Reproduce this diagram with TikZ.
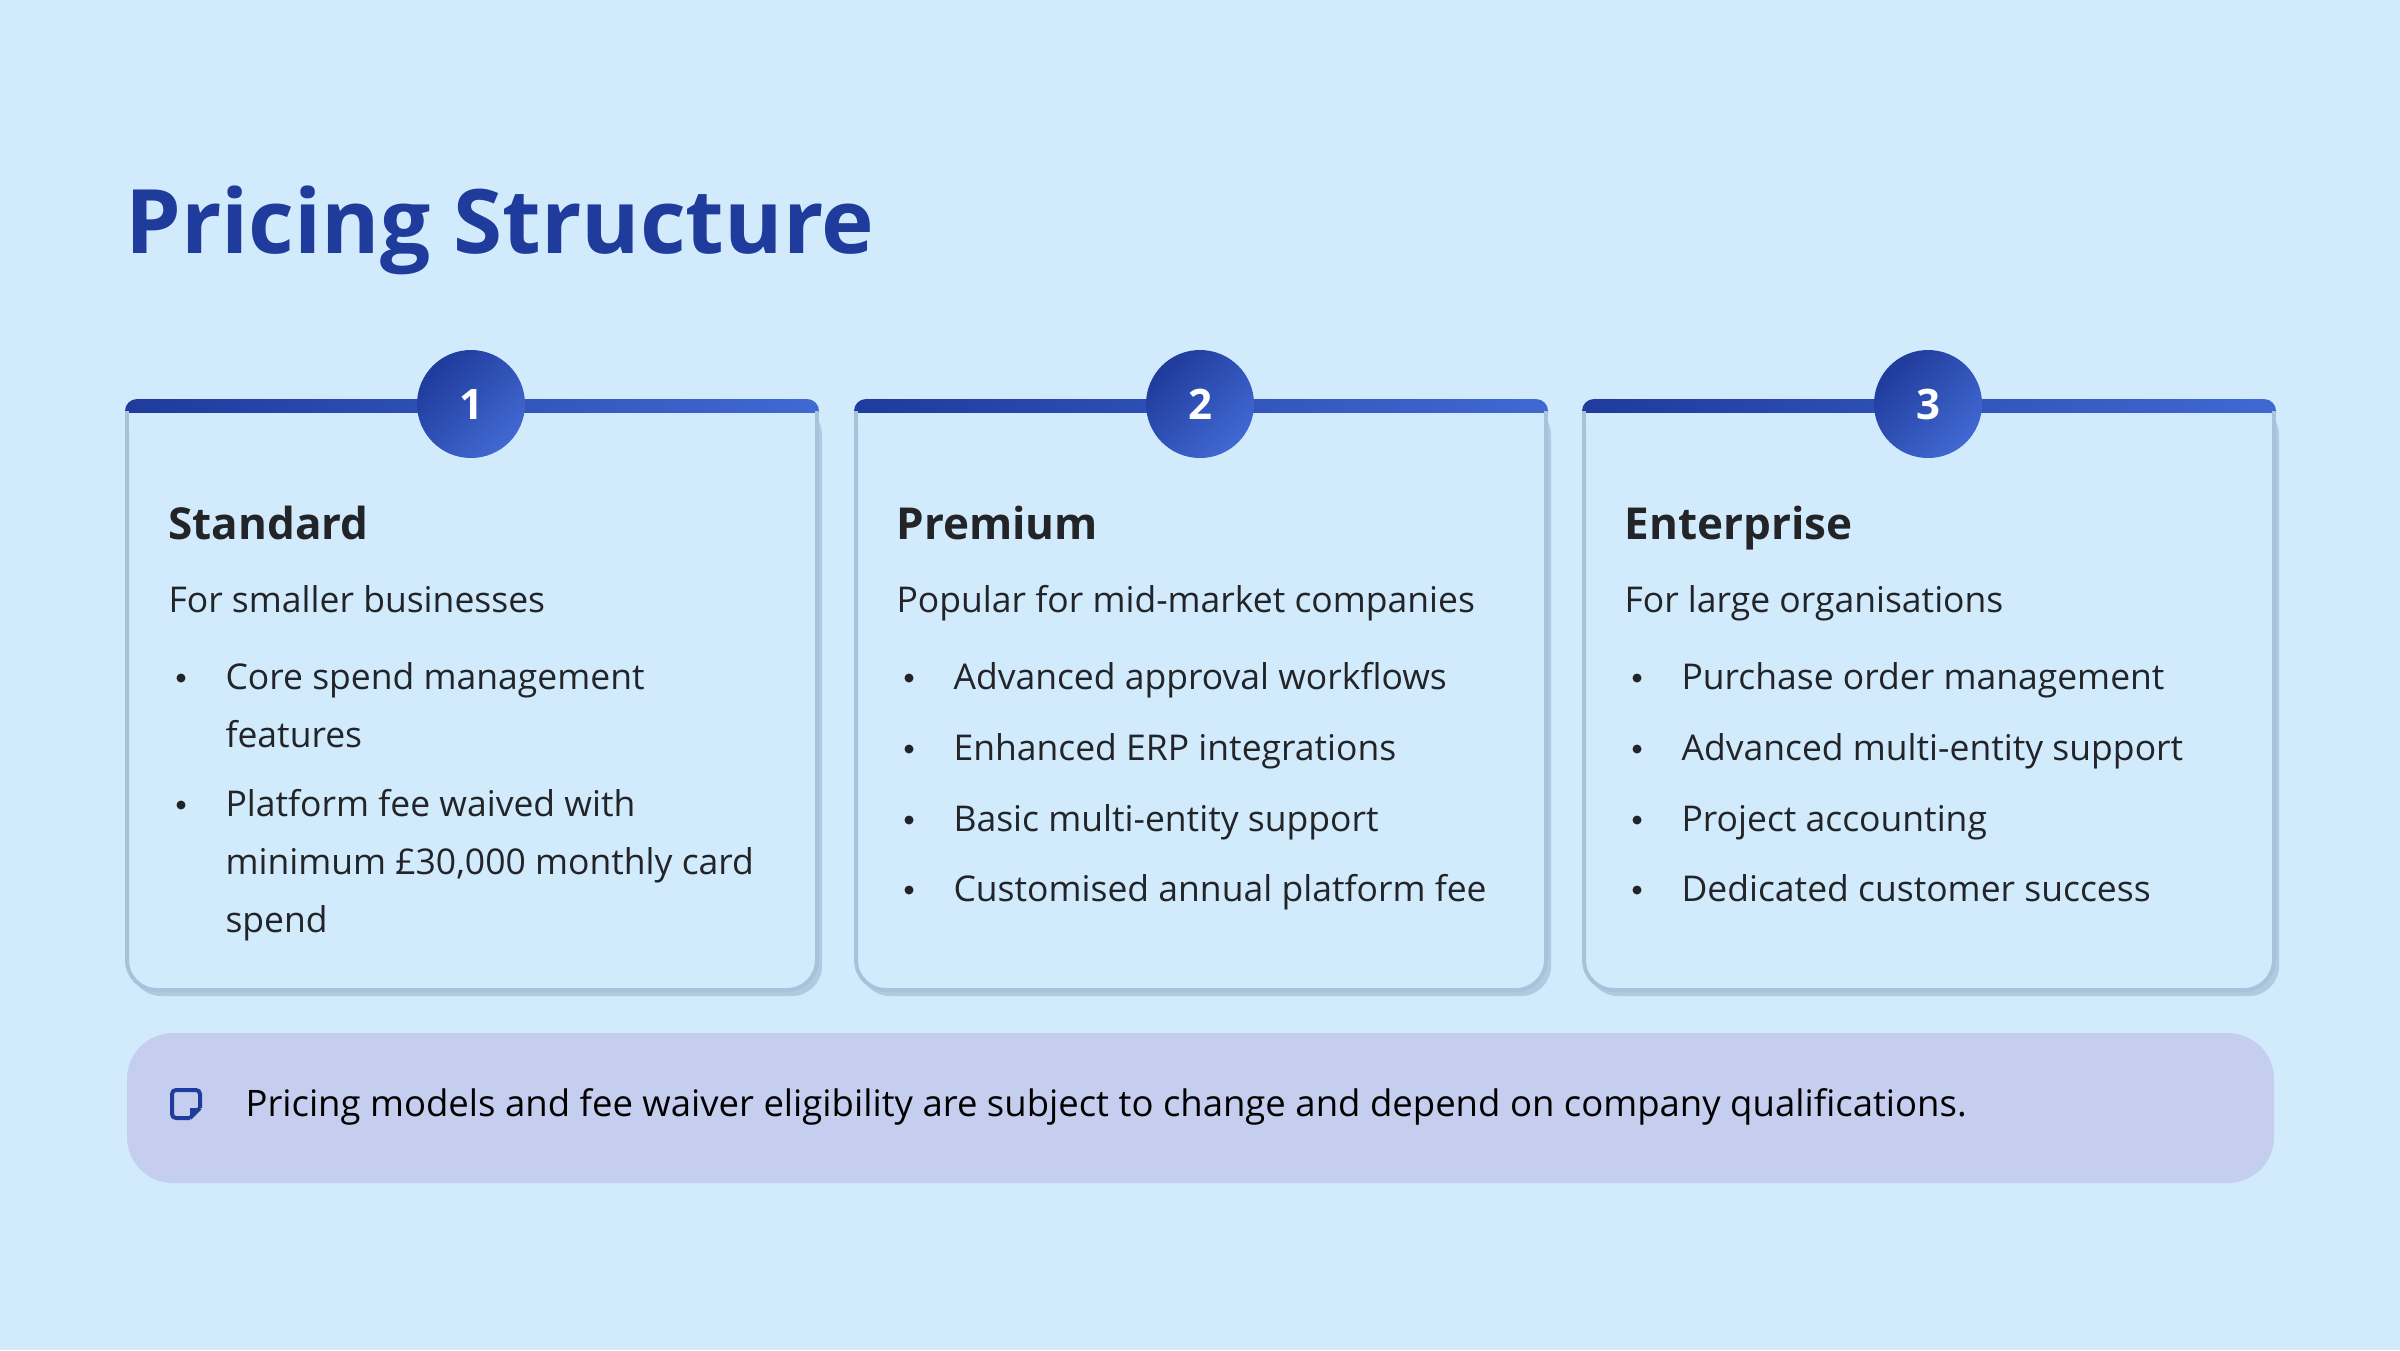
\documentclass[tikz,border=0pt]{standalone}
\usepackage{fontspec}
\setmainfont{Open Sans}
\definecolor{bg}{HTML}{D1EBFD}
\definecolor{dk}{HTML}{1F3B9B}
\definecolor{lt}{HTML}{4169D2}
\definecolor{bord}{HTML}{A8C3D9}
\definecolor{note}{HTML}{C5CEEE}
\definecolor{txt}{HTML}{222428}
\tikzset{
  cardbox/.style={draw=bord,line width=4pt,fill=bg,rounded corners=30pt},
  numc/.style={circle,minimum size=108pt,inner sep=0pt,left color=dk,right color=lt,shading angle=45,text=white,font=\fontsize{42}{48}\selectfont\bfseries},
  ttl/.style={anchor=base west,text=txt,font=\fontsize{44}{52}\selectfont\bfseries},
  sub/.style={anchor=base west,text=txt,font=\fontsize{35.5}{40}\selectfont},
  itm/.style={anchor=base west,text=txt,font=\fontsize{35.5}{40}\selectfont},
  bul/.style={circle,fill=txt,inner sep=0pt,minimum size=9pt},
}
\begin{document}
\begin{tikzpicture}[x=1pt,y=-1pt]
\fill[bg] (0,0) rectangle (2400,1350);
\useasboundingbox (0,0) rectangle (2400,1350);
\node[anchor=base west,font=\fontsize{89}{100}\selectfont\bfseries,text=dk] (title) at (122,253) {Pricing Structure};
\foreach \x/\n in {127/1,856/2,1584/3}{
  \fill[bord!80!bg,rounded corners=30pt] (\x+4,405) rectangle (\x+695,996);
  \draw[cardbox] (\x,401) rectangle (\x+690,990);
  \shade[left color=dk,right color=lt,rounded corners=12pt] (\x-2,425) -- (\x-2,399) -- (\x+692,399) -- (\x+692,425) -- cycle;
  \fill[bg] (\x+1,413) rectangle (\x+689,430);
  \draw[bord,line width=4pt] (\x,411) -- (\x,432) (\x+690,411) -- (\x+690,432);
  \node[numc] (c\n) at (\x+344,404) {\n};
}
% card 1
\node[ttl] (t1) at (165,539) {Standard};
\node[sub] (s1) at (165,612) {For smaller businesses};
\foreach \y/\t in {689/{Core spend management},747/{features},816/{Platform fee waived with},874/{minimum £30,000 monthly card},932/{spend}}{
  \node[itm] at (222,\y) {\t};}
\node[bul] (b11) at (181,678) {};
\node[bul] (b12) at (181,805) {};
% card 2
\node[ttl] (t2) at (893,539) {Premium};
\node[sub] (s2) at (893,612) {Popular for mid-market companies};
\foreach \y/\t [count=\i] in {689/Advanced approval workflows,760/Enhanced ERP integrations,831/Basic multi-entity support,901/Customised annual platform fee}{
  \node[itm] (i2\i) at (950,\y) {\t};
  \node[bul] at (909,\y-11) {};}
% card 3
\node[ttl] (t3) at (1621,539) {Enterprise};
\node[sub] (s3) at (1621,612) {For large organisations};
\foreach \y/\t [count=\i] in {689/Purchase order management,760/Advanced multi-entity support,831/Project accounting,901/Dedicated customer success}{
  \node[itm] (i3\i) at (1678,\y) {\t};
  \node[bul] at (1637,\y-11) {};}
% note
\fill[note,rounded corners=46pt] (127,1033) rectangle (2274,1183);
\draw[dk,line width=4pt,rounded corners=4pt] (190,1118) -- (172,1118) -- (172,1090) -- (200,1090) -- (200,1108);
\draw[dk,line width=4pt,line join=round] (200,1108) -- (190,1118);
\fill[dk] (200,1108) -- (190,1118) -- (190,1108) -- cycle;
\node[anchor=base west,text=black,font=\fontsize{36.5}{42}\selectfont] (nt) at (242,1116) {Pricing models and fee waiver eligibility are subject to change and depend on company qualifications.};
\end{tikzpicture}
\end{document}
